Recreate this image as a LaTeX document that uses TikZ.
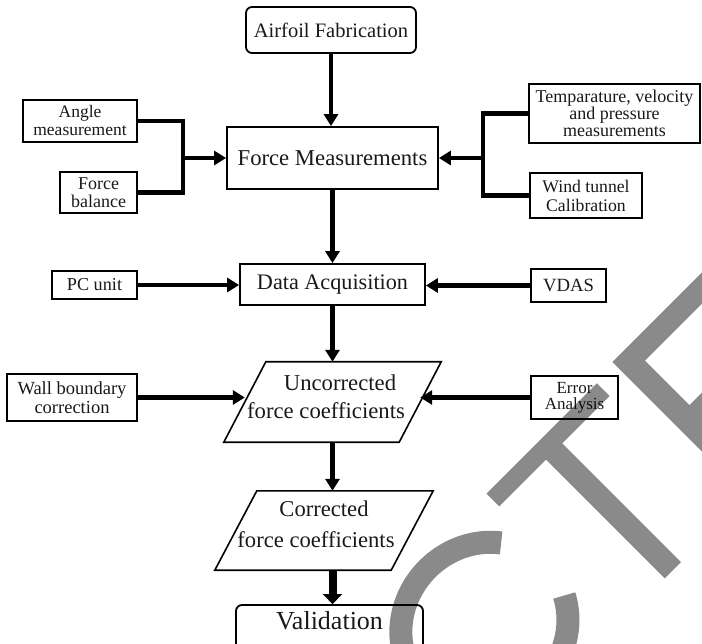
\documentclass[tikz,border=0pt]{standalone}
\usepackage{fontspec}
\setmainfont{Liberation Serif}
\usetikzlibrary{arrows.meta,calc}
\begin{document}
\begin{tikzpicture}[x=1pt,y=-1pt,
  box/.style={draw=black, line width=1.8pt, inner sep=0pt, align=center, text=black!90},
  rbox/.style={box, rounded corners=6pt},
  conn/.style={line width=4.3pt, black},
  arr/.style={conn, -{Triangle[length=12pt,width=14pt]}},
  bigarr/.style={line width=8pt, black, -{Triangle[length=10pt,width=19pt]}},
  para/.style={draw=none, inner sep=0pt, minimum height=80pt},
  paraline/.style={line width=1.6pt, black},
  txt/.style={inner sep=0pt, align=center, text=black!90},
]
\useasboundingbox (0,0) rectangle (702,644);
\clip (0,0) rectangle (702,644);

% main column
\node[rbox, minimum width=170pt, minimum height=46pt, font=\fontsize{20.5}{22}\selectfont] (airfoil) at (331,30) {Airfoil Fabrication};
\node[box, minimum width=211pt, minimum height=62pt, font=\fontsize{22.7}{24}\selectfont] (fm) at (332.5,158) {Force Measurements};
\node[box, minimum width=185pt, minimum height=41pt, font=\fontsize{22.2}{24}\selectfont] (da) at (332.5,284.5) {Data Acquisition};

% parallelograms
\node[para, minimum width=175pt] (unc) at (332.5,402) {};
\draw[paraline] ([xshift=21pt]unc.north west) -- ([xshift=21pt]unc.north east) -- ([xshift=-21pt]unc.south east) -- ([xshift=-21pt]unc.south west) -- cycle;
\node[txt, font=\fontsize{22.7}{28}\selectfont] (unct) at (332.5,396.5) {\hspace*{15pt}Uncorrected\\force coefficients\hspace*{13pt}};

\node[para, minimum width=176pt, minimum height=79pt] (cor) at (324,530.5) {};
\draw[paraline] ([xshift=21pt]cor.north west) -- ([xshift=21pt]cor.north east) -- ([xshift=-21pt]cor.south east) -- ([xshift=-21pt]cor.south west) -- cycle;
\node[txt, font=\fontsize{22.6}{31}\selectfont] (cort) at (324,524.7) {Corrected\\force coefficients\hspace*{16pt}};

\node[rbox, minimum width=187pt, minimum height=50pt] (val) at (329.5,630) {};
\node[txt, font=\fontsize{26}{28}\selectfont] (valt) at (329.5,621) {Validation};

% side boxes
\node[box, minimum width=114pt, minimum height=42pt, font=\fontsize{17.5}{18}\selectfont] (angle) at (80,121) {Angle\\measurement};
\node[box, minimum width=77pt, minimum height=41pt, font=\fontsize{18}{18}\selectfont] (fbal) at (98.5,192.5) {Force\\balance};
\node[box, minimum width=171pt, minimum height=59pt, font=\fontsize{18}{17}\selectfont] (temp) at (614.5,113.5) {Temparature, velocity\\and pressure\\measurements};
\node[box, minimum width=112pt, minimum height=45pt, font=\fontsize{17.7}{19}\selectfont] (wind) at (586,195.5) {Wind tunnel\\Calibration};
\node[box, minimum width=85pt, minimum height=28pt, font=\fontsize{18.2}{20}\selectfont] (pc) at (94.5,285) {PC unit};
\node[box, minimum width=75pt, minimum height=33pt, font=\fontsize{18.7}{20}\selectfont] (vdas) at (568.5,285.5) {VDAS};
\node[box, minimum width=130pt, minimum height=47pt, font=\fontsize{18.5}{19}\selectfont] (wall) at (72,397.5) {Wall boundary\\correction};
\node[box, minimum width=87pt, minimum height=43pt, font=\fontsize{17}{16}\selectfont] (err) at (574.5,397.5) {Error\\Analysis};

% junction points
\coordinate (lj) at (183,158);
\coordinate (rj) at (483,158);

% connectors
\draw[arr] (airfoil.south) -- (airfoil.south |- fm.north);
\draw[arr] (fm.south) -- (da.north);
\draw[arr] (da.south) -- (unc.north);
\draw[arr] (unc.south) -- (unc.south |- cor.north);
\draw[bigarr] (cor.south -| unc.south) -- (val.north -| unc.south);

\draw[conn] (angle.east) -| (lj) |- (fbal.east);
\draw[arr] (lj) -- (fm.west);
\draw[conn] (temp.west) -| (rj) |- (wind.west);
\draw[arr] (rj) -- (fm.east);

\draw[arr] (pc.east) -- (pc.east -| da.west);
\draw[arr] (vdas.west) -- (vdas.west -| da.east);
\draw[arr] (wall.east) -- (wall.east -| unc.west);
\draw[arr] (err.west) -- (err.west -| unc.east);

% watermark
\begin{scope}[rotate=45, opacity=0.46]
  \fill[black] (-5,693) rectangle (151,711) (61,693) rectangle (84,879)
    (177,689) rectangle (201,879) (177,689) rectangle (330,711)
    (177,774) rectangle (315,795) (177,857) rectangle (340,879);
\end{scope}
\draw[black, opacity=0.46, line width=23pt]
  plot[domain=35.5:334.2, samples=90, smooth]
  ({484.4 + 0.7071*(86.5*cos(\x) - 80.5*sin(\x))}, {625.8 - 0.7071*(80.5*sin(\x) + 86.5*cos(\x))});
\end{tikzpicture}
\end{document}
